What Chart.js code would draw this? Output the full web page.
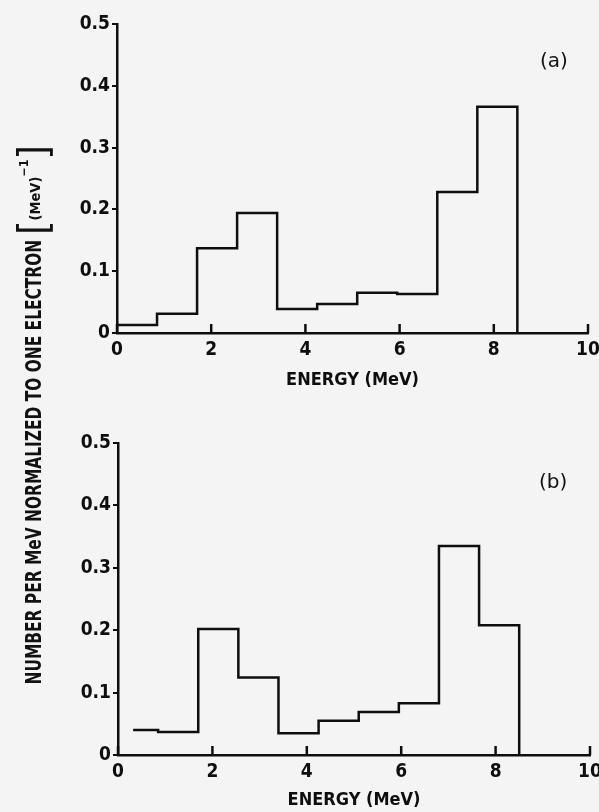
<!DOCTYPE html>
<html>
<head>
<meta charset="utf-8">
<script src="https://cdn.jsdelivr.net/npm/chart.js@4.4.1/dist/chart.umd.min.js"></script>
<style>
  html, body { margin:0; padding:0; background:#f4f4f4; width:599px; height:812px; overflow:hidden; }
  canvas { position:absolute; left:0; }
  #c1 { top:0; }
  #c2 { top:400px; }
  .vt { position:absolute; left:0; top:0; white-space:nowrap; transform-origin:0 0; color:#111;
        font-family:'DejaVu Sans Condensed','DejaVu Sans',sans-serif; font-weight:bold; line-height:1; }
  .lab { position:absolute; font-family:'DejaVu Sans',sans-serif; font-size:20px; color:#111; line-height:1; }
</style>
</head>
<body>
<canvas id="c1" width="599" height="400"></canvas>
<canvas id="c2" width="599" height="412"></canvas>
<div id="ymain" class="vt" style="font-size:22px">NUMBER PER MeV NORMALIZED TO ONE ELECTRON</div>
<div id="yunit" class="vt" style="display:inline-flex;align-items:center"><span style="font-size:40px;font-weight:normal">[</span><span style="font-size:14px;position:relative;top:2px">(MeV)</span><span style="font-size:12px;position:relative;top:-9px">−1</span><span style="font-size:40px;font-weight:normal">]</span></div>
<div class="lab" id="la" style="left:540px;top:50px">(a)</div>
<div class="lab" id="lb" style="left:539px;top:471px">(b)</div>
<script>
// ---- data ----
const xTicks = [0, 2, 4, 6, 8, 10];
const yTicks = [0, 0.1, 0.2, 0.3, 0.4, 0.5];
const topEdges = [0, 0.85, 1.7, 2.55, 3.4, 4.25, 5.1, 5.95, 6.8, 7.65, 8.5];
const topValues = [0.013, 0.031, 0.137, 0.194, 0.039, 0.047, 0.065, 0.063, 0.228, 0.366];
const bottomEdges = [0.32, 0.85, 1.7, 2.55, 3.4, 4.25, 5.1, 5.95, 6.8, 7.65, 8.5];
const bottomValues = [0.040, 0.037, 0.202, 0.124, 0.035, 0.055, 0.069, 0.083, 0.335, 0.208];
const xTitle = 'ENERGY (MeV)';

function steps(edges, vals) {
  const pts = [];
  for (let i = 0; i < vals.length; i++) {
    pts.push({x: edges[i], y: vals[i]});
    pts.push({x: edges[i + 1], y: vals[i]});
  }
  pts.push({x: edges[edges.length - 1], y: 0});
  return pts;
}

const INK = '#0e0e0e';
const tickFont = {family: "'DejaVu Sans Condensed','DejaVu Sans',sans-serif", weight: 'bold', size: 19};

const innerTicks = {
  id: 'innerTicks',
  afterDatasetsDraw(chart) {
    const ctx = chart.ctx, xs = chart.scales.x, y0 = chart.scales.y.getPixelForValue(0);
    ctx.save();
    ctx.strokeStyle = INK; ctx.lineWidth = 2.5;
    xTicks.forEach(v => {
      const px = xs.getPixelForValue(v);
      ctx.beginPath(); ctx.moveTo(px, y0); ctx.lineTo(px, y0 - 9); ctx.stroke();
    });
    ctx.restore();
  }
};

function makeChart(id, edges, vals, pad, xh, titlePadBottom) {
  return new Chart(document.getElementById(id), {
    type: 'scatter',
    data: { datasets: [{ data: steps(edges, vals), showLine: true, borderColor: INK, borderWidth: 2.5,
                         pointRadius: 0, tension: 0, fill: false }] },
    options: {
      responsive: false, animation: false, devicePixelRatio: 1,
      layout: { padding: pad },
      plugins: { legend: {display: false}, tooltip: {enabled: false} },
      scales: {
        x: {
          type: 'linear', min: 0, max: 10,
          afterBuildTicks: s => { s.ticks = xTicks.map(v => ({value: v})); },
          ticks: { font: tickFont, color: INK, padding: 6, maxRotation: 0,
                   callback: v => String(v) },
          grid: { drawOnChartArea: false, drawTicks: false },
          border: { display: true, color: INK, width: 2.5 },
          title: { display: true, text: xTitle, color: INK,
                   font: {family: "'DejaVu Sans Condensed','DejaVu Sans',sans-serif", weight: 'bold', size: 18},
                   padding: {top: 0, bottom: titlePadBottom} },
          afterFit: s => { s.height = xh; s.paddingLeft = 0; s.paddingRight = 0; }
        },
        y: {
          type: 'linear', min: 0, max: 0.5,
          afterBuildTicks: s => { s.ticks = yTicks.map(v => ({value: v})); },
          ticks: { font: tickFont, color: INK, padding: 2, callback: v => String(v) },
          grid: { drawOnChartArea: false, drawTicks: true, tickLength: 5, color: INK, lineWidth: 2 },
          border: { display: true, color: INK, width: 2.5 },
          afterFit: s => { s.width = pad.yw; s.paddingTop = 0; s.paddingBottom = 0; }
        }
      }
    },
    plugins: [innerTicks]
  });
}

makeChart('c1', topEdges, topValues, {top: 24, right: 11, left: 0, bottom: 0, yw: 117}, 67, 9);
makeChart('c2', bottomEdges, bottomValues, {top: 43, right: 9, left: 0, bottom: 0, yw: 118}, 57, 1);

function placeVertical(el, cx, cy, len) {
  const w = el.offsetWidth, h = el.offsetHeight;
  const sx = len / w;
  el.style.transform = `translate(${cx}px, ${cy}px) rotate(-90deg) scale(${sx}, 1) translate(${-w/2}px, ${-h/2}px)`;
}
placeVertical(document.getElementById('ymain'), 33.5, 462, 445);
placeVertical(document.getElementById('yunit'), 33, 190, 90);
</script>
</body>
</html>
